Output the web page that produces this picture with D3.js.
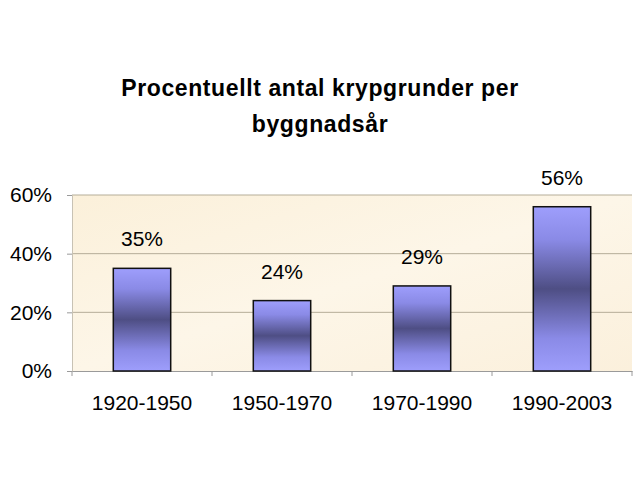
<!DOCTYPE html>
<meta charset="utf-8">
<style>
body { margin: 0; background: #fff; }
</style>
<svg width="640" height="484"></svg>
<script src="https://d3js.org/d3.v7.min.js"></script>
<script>

var categories = ["1920-1950", "1950-1970", "1970-1990", "1990-2003"]
var values = [35, 24, 29, 56]
var yTicks = [0, 20, 40, 60]
var titleLines = ["Procentuellt antal krypgrunder per", "byggnadsår"]

var svg = d3.select("svg")
var plotLeft = 72, plotRight = 632, plotTop = 195, plotBottom = 371

var xScale = d3.scaleBand().domain(categories).range([plotLeft, plotRight]).paddingInner(0.59).paddingOuter(0.295)
var yScale = d3.scaleLinear().domain([0, 60]).range([plotBottom, plotTop])

var defs = svg.append("defs")
var bg = defs.append("linearGradient").attr("id", "bg").attr("x1", 0).attr("y1", 0).attr("x2", 1).attr("y2", 1)
bg.append("stop").attr("offset", "0%").attr("stop-color", "#fbf0da")
bg.append("stop").attr("offset", "50%").attr("stop-color", "#fdf6e8")
bg.append("stop").attr("offset", "100%").attr("stop-color", "#fbf0dc")

var bar = defs.append("linearGradient").attr("id", "bar").attr("x1", 0).attr("y1", 0).attr("x2", 0).attr("y2", 1)
bar.append("stop").attr("offset", "0%").attr("stop-color", "#9e9efc")
bar.append("stop").attr("offset", "20%").attr("stop-color", "#8a8ae6")
bar.append("stop").attr("offset", "50%").attr("stop-color", "#4e4e84")
bar.append("stop").attr("offset", "80%").attr("stop-color", "#8a8ae6")
bar.append("stop").attr("offset", "100%").attr("stop-color", "#9e9efc")

// plot area
svg.append("rect")
  .attr("x", plotLeft).attr("y", plotTop)
  .attr("width", plotRight - plotLeft).attr("height", plotBottom - plotTop)
  .attr("fill", "url(#bg)")

// gridlines
svg.append("g")
  .selectAll("line")
  .data(yTicks.filter(function(d) { return d > 0 }))
  .enter().append("line")
  .attr("x1", plotLeft).attr("x2", plotRight)
  .attr("y1", function(d) { return yScale(d) }).attr("y2", function(d) { return yScale(d) })
  .attr("stroke", "#b5ad98").attr("stroke-width", 1)

// y axis
var yAxis = svg.append("g")
  .attr("transform", "translate(" + plotLeft + ",0)")
  .call(d3.axisLeft(yScale).tickValues(yTicks).tickSize(5).tickPadding(15).tickFormat(function(d) { return d + "%" }))
yAxis.select(".domain").attr("stroke", "#c8c2b4")
yAxis.selectAll(".tick line").attr("stroke", "#9a9a9a")
yAxis.selectAll("text")
  .style("font-family", "Liberation Sans, Arial")
  .style("font-size", "21px")
  .attr("fill", "#000")

// x axis
var xAxis = svg.append("g")
  .attr("transform", "translate(0," + plotBottom + ")")
  .call(d3.axisBottom(xScale).tickSize(0).tickPadding(24))
xAxis.select(".domain").attr("stroke", "#9a9a9a")
xAxis.selectAll("text")
  .style("font-family", "Liberation Sans, Arial")
  .style("font-size", "21px")
  .attr("fill", "#000")

var step = xScale.step()
svg.append("g").selectAll("line")
  .data(d3.range(categories.length + 1))
  .enter().append("line")
  .attr("x1", function(i) { return plotLeft + i * step }).attr("x2", function(i) { return plotLeft + i * step })
  .attr("y1", plotBottom).attr("y2", plotBottom + 5)
  .attr("stroke", "#9a9a9a")

// bars
svg.append("g")
  .selectAll("rect")
  .data(values)
  .enter().append("rect")
  .attr("x", function(d, i) { return xScale(categories[i]) })
  .attr("y", function(d) { return yScale(d) })
  .attr("width", xScale.bandwidth())
  .attr("height", function(d) { return plotBottom - yScale(d) })
  .attr("fill", "url(#bar)")
  .attr("stroke", "#111")
  .attr("stroke-width", 1.5)

// value labels
svg.append("g")
  .selectAll("text")
  .data(values)
  .enter().append("text")
  .attr("x", function(d, i) { return xScale(categories[i]) + xScale.bandwidth() / 2 })
  .attr("y", function(d) { return yScale(d) - 22 })
  .attr("text-anchor", "middle")
  .style("font-family", "Liberation Sans, Arial")
  .style("font-size", "21px")
  .text(function(d) { return d + "%" })

// title
svg.append("g")
  .selectAll("text")
  .data(titleLines)
  .enter().append("text")
  .attr("x", 320)
  .attr("y", function(d, i) { return 96 + i * 36 })
  .attr("text-anchor", "middle")
  .style("font-family", "Liberation Sans, Arial")
  .style("font-weight", "bold")
  .style("font-size", "23px")
  .style("letter-spacing", "0.6px")
  .text(function(d) { return d })

</script>
